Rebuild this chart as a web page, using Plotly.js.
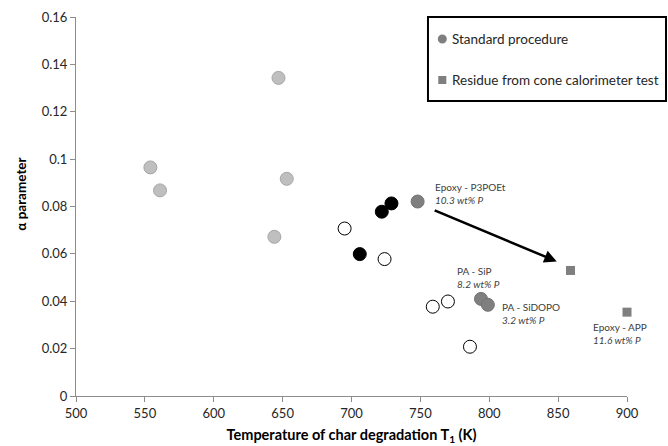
<!DOCTYPE html>
<html>
<head>
<meta charset="utf-8">
<script src="https://cdn.plot.ly/plotly-3.0.1.min.js"></script>
<style>html,body{margin:0;padding:0;background:#fff;}#chart{width:668px;height:446px;}</style>
</head>
<body>
<div id="chart"></div>
<script>
// Light grey circles (standard procedure)
var lightX = [554, 561, 647, 653, 644];
var lightY = [0.0965, 0.0868, 0.1343, 0.0917, 0.0672];
// Black circles
var blackX = [729, 722, 706];
var blackY = [0.0813, 0.0778, 0.0599];
// Open circles
var openX = [695, 724, 759, 770, 786];
var openY = [0.0707, 0.0578, 0.0377, 0.0399, 0.0208];
// Dark grey circles (labelled systems)
var darkX = [748, 794, 799];
var darkY = [0.0821, 0.0410, 0.0385];
// Squares: residue from cone calorimeter test
var squareX = [859, 900];
var squareY = [0.0530, 0.0354];

// Labels
var labelText = ["Epoxy - P3POEt", "PA - SiP", "PA - SiDOPO", "Epoxy - APP"];
var labelSub = ["10.3 wt% P", "8.2 wt% P", "3.2 wt% P", "11.6 wt% P"];
var labelX = [759.4, 775.1, 807.8, 873.7];
var labelY = [0.0854, 0.0501, 0.0350, 0.0265];

// Arrow
var arrowStart = [758.2, 0.0789];
var arrowEnd = [849, 0.0568];

// Axis ticks
var xTicks = [500, 550, 600, 650, 700, 750, 800, 850, 900];
var yTicks = [0, 0.02, 0.04, 0.06, 0.08, 0.1, 0.12, 0.14, 0.16];
var yTickText = ["0", "0.02", "0.04", "0.06", "0.08", "0.1", "0.12", "0.14", "0.16"];

var legendNames = ["Standard procedure", "Residue from cone calorimeter test"];

var FONT = "Lato, 'Open Sans', sans-serif";

var traces = [
  {x: lightX, y: lightY, type: "scatter", mode: "markers", showlegend: false, cliponaxis: false,
   marker: {symbol: "circle", size: 13, color: "#bfbfbf", line: {color: "#a6a6a6", width: 1}}},
  {x: blackX, y: blackY, type: "scatter", mode: "markers", showlegend: false, cliponaxis: false,
   marker: {symbol: "circle", size: 13, color: "#000000", line: {color: "#000000", width: 1}}},
  {x: openX, y: openY, type: "scatter", mode: "markers", showlegend: false, cliponaxis: false,
   marker: {symbol: "circle", size: 13, color: "#ffffff", line: {color: "#000000", width: 1}}},
  {x: darkX, y: darkY, type: "scatter", mode: "markers", showlegend: false, cliponaxis: false,
   marker: {symbol: "circle", size: 13, color: "#7f7f7f", line: {color: "#737373", width: 1}}},
  {x: squareX, y: squareY, type: "scatter", mode: "markers", showlegend: false, cliponaxis: false,
   marker: {symbol: "square", size: 9, color: "#7f7f7f", line: {width: 0}}}
];

var annotations = [];
for (var i = 0; i < labelText.length; i++) {
  annotations.push({
    x: labelX[i], y: labelY[i], xref: "x", yref: "y",
    text: labelText[i] + "<br><i>" + labelSub[i] + "</i>",
    showarrow: false, xanchor: "left", yanchor: "middle", align: "left",
    font: {family: FONT, size: 10, color: "#404040"}
  });
}
annotations.push({
  x: arrowEnd[0], y: arrowEnd[1], ax: arrowStart[0], ay: arrowStart[1],
  xref: "x", yref: "y", axref: "x", ayref: "y",
  text: " ", showarrow: true, arrowhead: 2, arrowsize: 1, arrowwidth: 2.5, arrowcolor: "#000000"
});

// Legend (manual box, layout only)
var legY = [0.9420, 0.8338];
annotations.push({x: 0.6783, y: legY[0], xref: "paper", yref: "paper", xanchor: "left", yanchor: "middle",
  showarrow: false, text: legendNames[0], font: {family: FONT, size: 13.5, color: "#262626"}});
annotations.push({x: 0.6783, y: legY[1], xref: "paper", yref: "paper", xanchor: "left", yanchor: "middle",
  showarrow: false, text: legendNames[1], font: {family: FONT, size: 13.5, color: "#262626"}});
// y-axis title
annotations.push({x: -0.1002, y: 0.5330, xref: "paper", yref: "paper", xanchor: "center", yanchor: "middle",
  showarrow: false, textangle: -90, text: "α parameter",
  font: {family: FONT, size: 13.5, color: "#000000", weight: "bold"}});

var shapes = [
  {type: "rect", xref: "paper", yref: "paper", x0: 0.6388, x1: 1.0708, y0: 0.7784, y1: 1.0,
   line: {color: "#000000", width: 2}, fillcolor: "#ffffff", layer: "below"},
  {type: "circle", xref: "paper", yref: "paper", x0: 0.6566, x1: 0.6730, y0: 0.9301, y1: 0.9538,
   line: {width: 0}, fillcolor: "#7f7f7f"},
  {type: "rect", xref: "paper", yref: "paper", x0: 0.6575, x1: 0.6721, y0: 0.8232, y1: 0.8443,
   line: {width: 0}, fillcolor: "#7f7f7f"}
];

var layout = {
  width: 668, height: 446,
  margin: {l: 76, r: 41, t: 17, b: 50},
  paper_bgcolor: "#ffffff", plot_bgcolor: "#ffffff",
  font: {family: FONT, size: 13, color: "#262626"},
  showlegend: false,
  xaxis: {
    range: [500, 900], tickvals: xTicks, ticktext: xTicks.map(String),
    showgrid: false, zeroline: false, showline: true, linecolor: "#8c8c8c", linewidth: 1,
    ticks: "outside", ticklen: 5, tickcolor: "#8c8c8c",
    tickfont: {family: FONT, size: 13, color: "#262626"},
    title: {text: "Temperature of char degradation T<sub>1</sub> (K)", standoff: 10,
            font: {family: FONT, size: 14.5, color: "#000000", weight: "bold"}}
  },
  yaxis: {
    range: [0, 0.16], tickvals: yTicks, ticktext: yTickText,
    showgrid: false, zeroline: false, showline: true, linecolor: "#8c8c8c", linewidth: 1,
    ticks: "outside", ticklen: 5, tickcolor: "#8c8c8c",
    tickfont: {family: FONT, size: 13, color: "#262626"}
  },
  shapes: shapes,
  annotations: annotations
};

Plotly.newPlot("chart", traces, layout, {displayModeBar: false, staticPlot: true});
</script>
</body>
</html>
